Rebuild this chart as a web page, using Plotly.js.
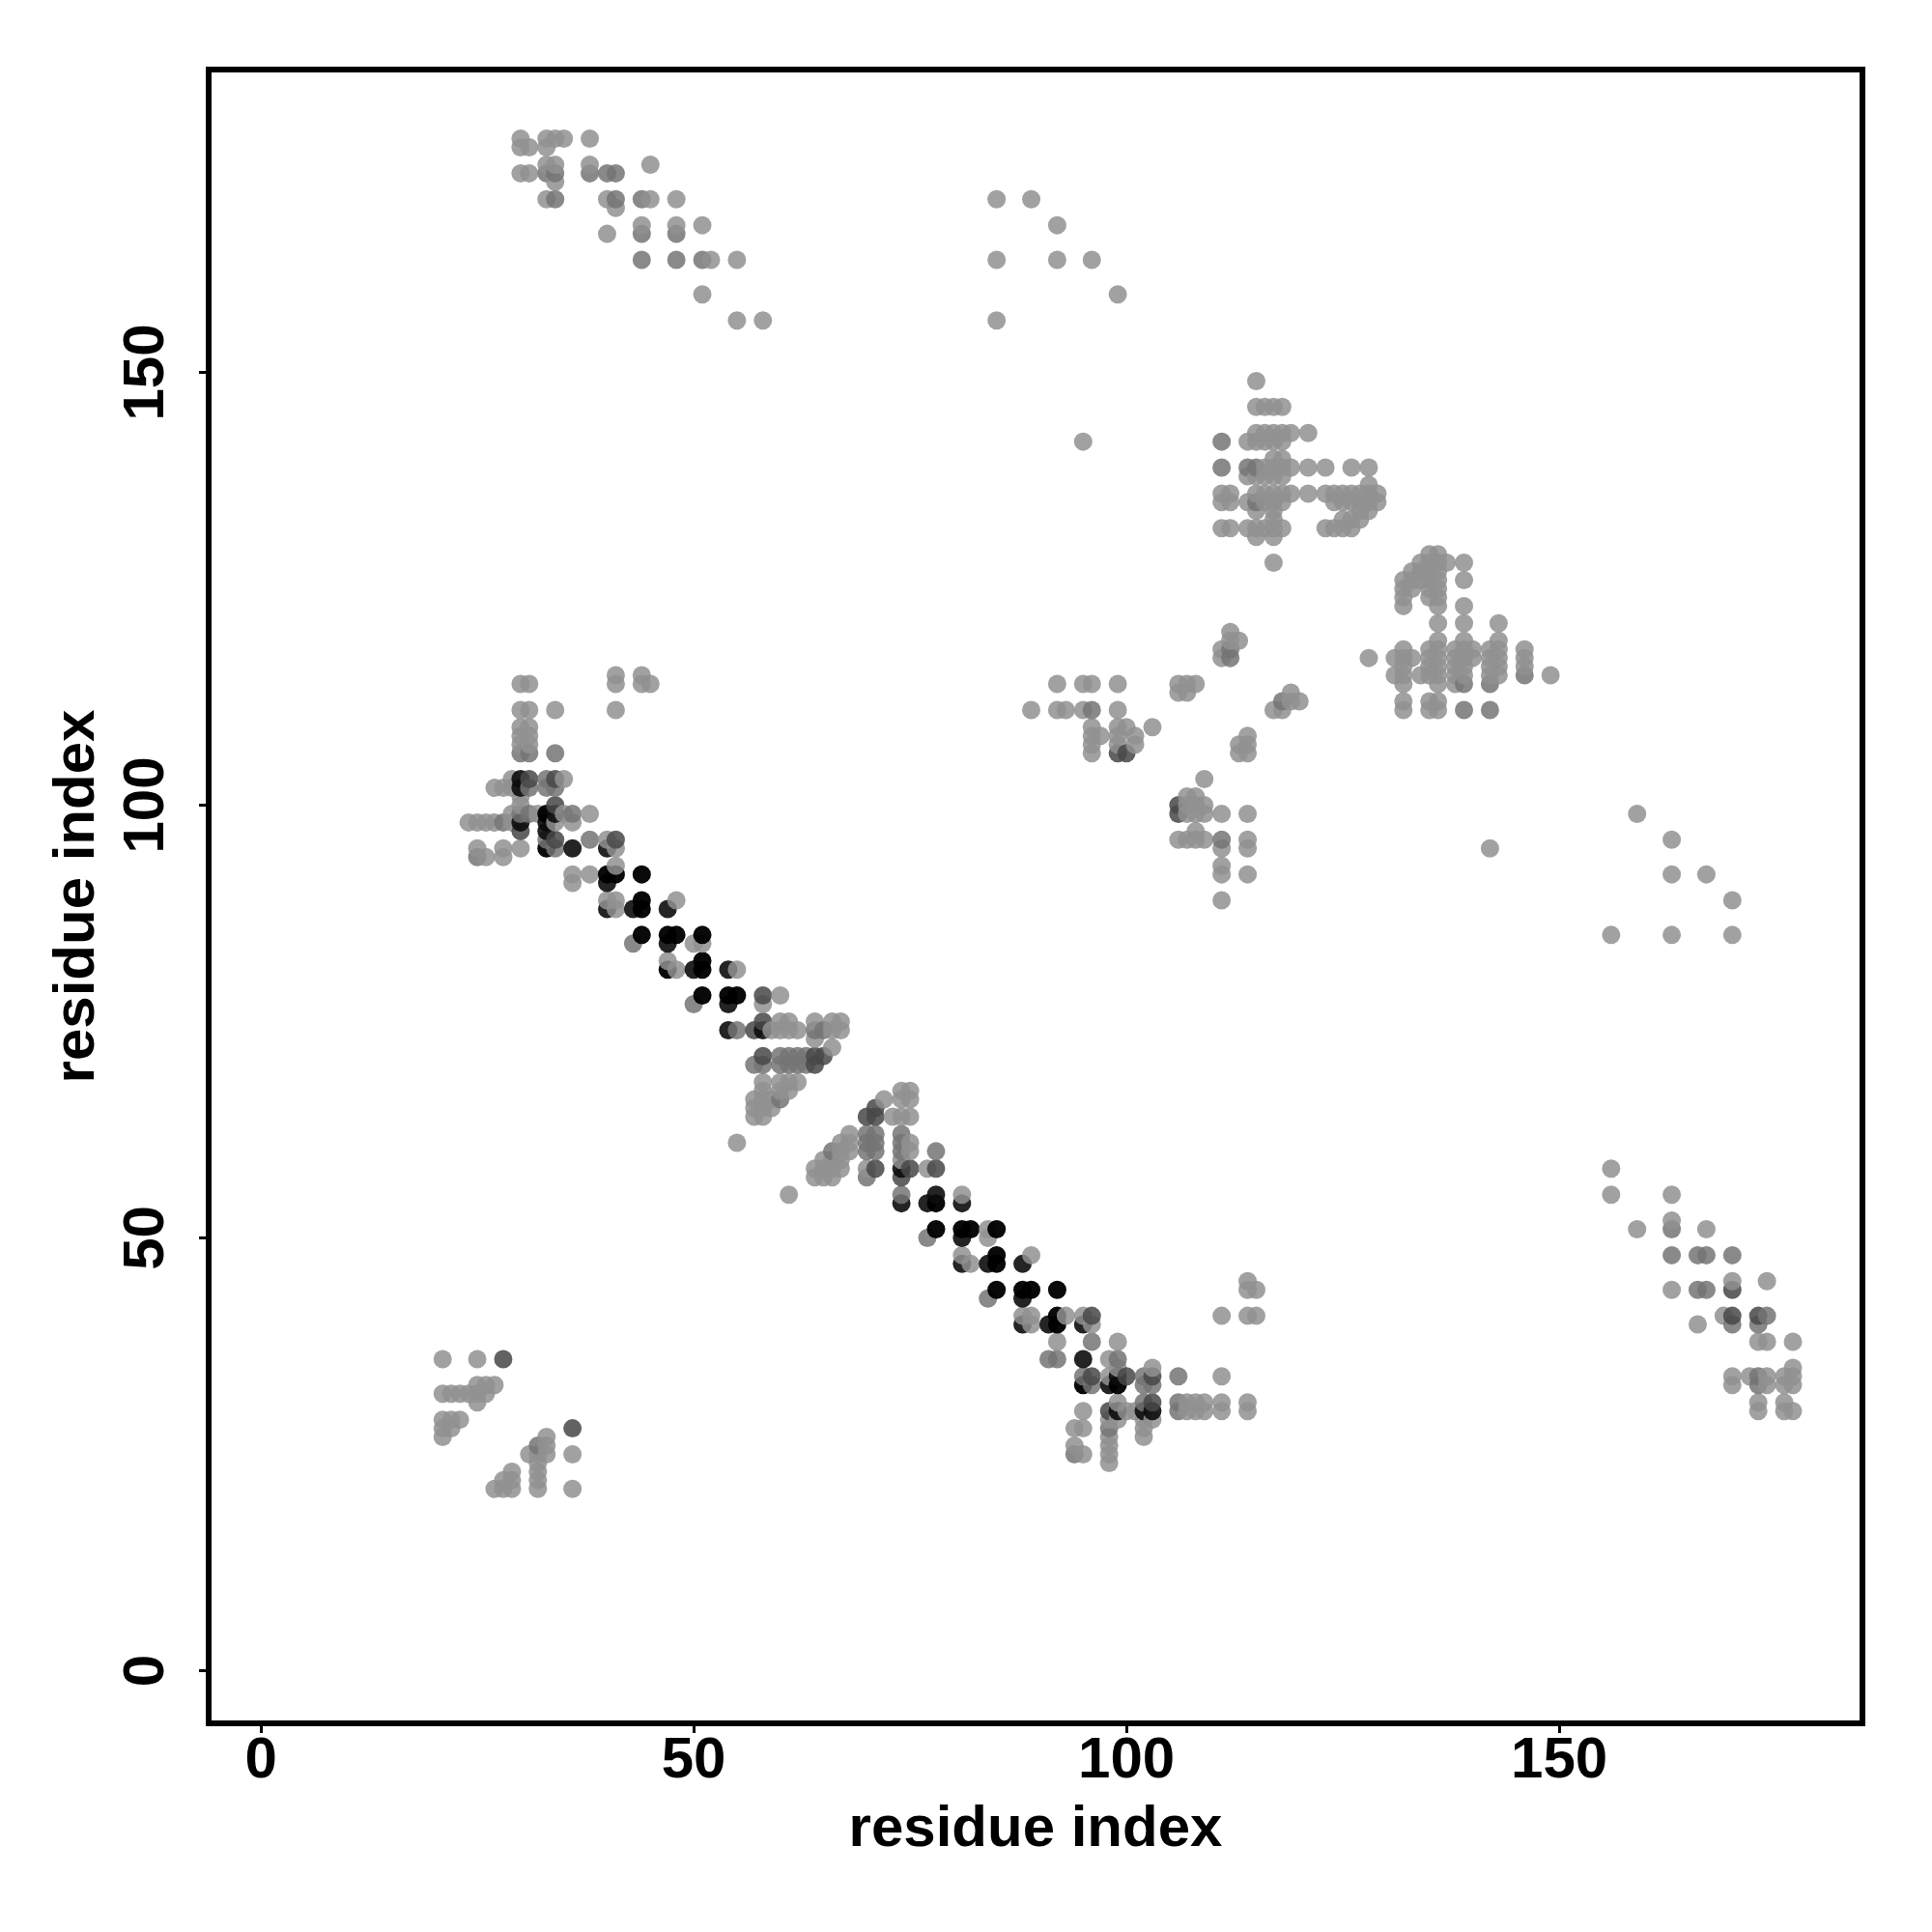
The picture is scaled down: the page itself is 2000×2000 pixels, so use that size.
<!DOCTYPE html>
<html><head><meta charset="utf-8">
<script src="https://cdn.plot.ly/plotly-3.0.1.min.js"></script>
<style>html,body{margin:0;padding:0;background:#fff}</style></head>
<body><div id="chart" style="width:2000px;height:2000px"></div>
<script>
// contact pairs [residue i, residue j], grouped by how dark the dot is
const lightPairs = [
[21,36],[25,36],[25,33],[26,33],[27,33],[21,32],[22,32],[23,32],[24,32],[25,32],[26,32],[25,31],[21,29],[22,29],[23,29],[21,28],[22,28],[21,27],
[36,25],[36,21],[33,27],[33,26],[33,25],[32,25],[32,24],[32,23],[32,22],[32,21],[31,25],[29,23],[29,22],[29,21],[28,22],[28,21],[27,21],
[30,114],[31,114],[41,115],[41,114],[44,115],[44,114],[45,114],[30,111],[31,111],[34,111],[41,111],[30,109],[31,109],[30,108],[31,108],[30,107],[31,107],
[29,103],[35,103],[27,102],[28,102],[29,102],[30,101],[30,100],[29,99],[32,99],[35,99],[38,99],[24,98],[25,98],[26,98],[27,98],[29,98],[34,98],[36,98],
[40,96],[25,95],[28,95],[30,95],[41,95],[26,94],[28,94],[41,93],[36,92],[38,92],[36,91],[40,89],[41,89],[48,89],[41,88],[50,84],[51,84],[47,82],[48,81],[55,81],[60,78],[58,77],
[60,75],[61,75],[64,75],[66,75],[67,75],[59,74],[60,74],[61,74],[62,74],[64,74],[66,74],[67,74],[64,73],[66,72],
[58,68],[60,68],[61,68],[62,68],[58,67],[60,67],[61,67],[57,66],[58,66],[59,66],[57,65],[58,65],[59,65],[57,64],[58,64],[55,61],[61,55],
[74,67],[75,67],[72,66],[74,66],[75,66],[73,64],[74,64],[75,64],[68,62],[67,61],[68,61],[67,60],[68,60],[65,59],[66,59],[67,59],[64,58],[65,58],[66,58],[67,58],[64,57],[65,57],[66,57],
[70,58],[74,59],[75,61],[75,60],[77,58],[81,55],[84,51],[84,50],[81,48],[89,48],[82,47],[114,45],[114,44],[115,44],
[88,41],[89,41],[93,41],[95,41],[111,41],[114,41],[115,41],[89,40],[96,40],[92,38],[99,38],[98,36],[103,35],[99,35],[98,34],[111,34],
[99,31],[107,31],[108,31],[109,31],[111,31],[114,31],[95,30],[100,30],[101,30],[107,30],[108,30],[109,30],[111,30],[114,30],[98,29],[99,29],[102,29],[103,29],[94,28],[95,28],[102,28],[98,27],[102,27],[94,26],[98,26],[95,25],[98,25],[98,24],
[85,170],[89,170],[92,167],[85,163],[92,163],[96,163],[99,159],[85,156],[95,142],[159,99],[163,96],[163,92],[167,92],[170,89],[156,85],[163,85],[170,85],[142,95],
[156,58],[156,55],[163,55],[159,51],[163,52],[167,51],[170,45],[174,45],[163,44],[169,41],[166,40],[174,38],[173,38],[177,38],[177,35],[170,34],[172,34],[174,34],[176,34],[177,34],[170,33],[174,33],[176,33],[177,33],[173,31],[176,31],[173,30],[176,30],[177,30],
[30,177],[33,177],[34,177],[35,177],[38,177],[30,176],[31,176],[33,176],[33,174],[34,174],[38,174],[45,174],[30,173],[31,173],[34,172],[33,170],[40,170],[45,170],[48,170],[41,169],[44,167],[48,167],[51,167],[40,166],[44,163],[52,163],[55,163],[51,159],[55,156],[58,156],
[115,149],[115,146],[116,146],[117,146],[118,146],[115,143],[116,143],[117,143],[118,143],[119,143],[121,143],[114,142],[115,142],[116,142],[117,142],[118,142],[117,140],[118,140],[116,139],[117,139],[118,139],[119,139],[121,139],[123,139],[126,139],[128,139],[114,138],[115,138],[116,138],[117,138],[118,138],[128,137],
[111,136],[112,136],[115,136],[116,136],[117,136],[118,136],[119,136],[121,136],[123,136],[124,136],[125,136],[126,136],[127,136],[128,136],[129,136],[111,135],[112,135],[114,135],[116,135],[117,135],[118,135],[124,135],[125,135],[126,135],[127,135],[128,135],[129,135],[115,134],[117,134],[127,134],[128,134],[117,133],[125,133],[126,133],[127,133],[111,132],[112,132],[114,132],[115,132],[116,132],[117,132],[118,132],[123,132],[124,132],[125,132],[126,132],[115,131],[117,131],[117,128],
[135,129],[136,129],[134,128],[135,128],[136,128],[137,128],[139,128],[133,127],[134,127],[135,127],[136,127],[132,126],[133,126],[134,126],[135,126],[136,126],[139,126],[132,125],[133,125],[135,125],[136,125],[132,124],[135,124],[136,124],[132,123],[136,123],[139,123],[136,121],[139,121],[143,121],[136,119],[139,119],[143,119],
[132,118],[135,118],[136,118],[138,118],[139,118],[140,118],[142,118],[143,118],[146,118],[128,117],[131,117],[132,117],[133,117],[135,117],[136,117],[138,117],[139,117],[140,117],[142,117],[143,117],[146,117],[132,116],[135,116],[136,116],[138,116],[139,116],[142,116],[143,116],[146,116],[131,115],[132,115],[134,115],[135,115],[136,115],[138,115],[139,115],[142,115],[143,115],[149,115],[132,114],[136,114],[138,114],[132,112],[135,112],[136,112],[132,111],[135,111],[136,111],
[92,114],[95,114],[96,114],[99,114],[106,114],[107,114],[108,114],[106,113],[107,113],[89,111],[92,111],[93,111],[95,111],[99,111],[96,109],[99,109],[100,109],[103,109],[96,108],[97,108],[99,108],[101,108],[96,107],[99,107],[101,107],[96,106],
[111,117],[111,118],[112,120],[112,119],[113,119],[119,113],[119,112],[120,112],[117,111],[118,111],[114,108],[113,107],[114,107],[113,106],[114,106],[109,103],
[107,101],[108,101],[107,100],[108,100],[109,100],[107,99],[108,99],[109,99],[111,99],[114,99],[108,97],[106,96],[107,96],[108,96],[109,96],[114,96],[111,95],[114,95],[111,93],[111,92],[114,92],[111,89]
];
const mediumPairs = [
[32,26],[34,106],[30,106],[31,106],[31,102],[33,102],[34,102],[33,103],[30,99],[31,99],[36,99],[28,98],[33,96],[38,96],[34,95],[25,94],[43,84],[50,77],[55,74],
[60,71],[61,71],[62,71],[63,71],[57,70],[58,70],[60,70],[61,70],[62,70],[63,70],[60,66],[66,60],[70,61],[71,61],[70,60],[71,60],[70,62],[71,62],[70,57],[74,62],[74,61],[74,60],[78,60],[74,55],[77,50],[84,43],
[96,38],[91,36],[92,36],[99,36],[95,34],[102,34],[106,34],[96,33],[102,33],[103,33],[102,31],[106,31],[106,30],[98,28],[94,25],[65,74],[64,74],
[163,48],[166,48],[167,48],[170,48],[163,51],[166,44],[167,44],[174,41],[170,40],[173,40],[173,34],[173,33],
[34,173],[40,173],[41,173],[38,173],[33,173],[34,170],[44,170],[41,170],[44,166],[48,166],[44,163],[48,163],[51,163],
[111,142],[111,139],[114,139],[115,139],[115,135],[96,111],[112,117],[112,118],[118,112],[111,96],[142,111],[139,111],[139,114],[142,114],[146,115]
];
const midPairs = [
[28,36],[36,28],[31,103],[34,103],[34,100],[34,96],[41,96],[30,97],[58,78],[58,75],[57,74],[58,71],[64,71],[65,71],[64,70],[71,65],[70,64],[71,64],[71,58],[74,57],[75,58],[78,58],[96,41],[96,34],[100,34],[103,34],[103,31],[98,30],
[170,44],[170,41],[173,41],
[106,100],[106,99],[99,106],[100,106]
];
const darkPairs = [
[30,103],[30,102],[30,98],[33,98],[33,97],[34,99],[36,95],[40,95],[40,91],[40,88],[43,88],[47,88],[47,84],[50,81],[54,81],[54,77],[54,74],[58,74],[74,58],[74,54],[77,54],[78,55],[81,54],[81,50],[81,47],[84,47],[88,47],[88,43],[88,40],[91,40],[95,40],[95,36],[99,34],[98,33],[99,30],[102,30],[103,30]
];
const blackPairs = [
[33,99],[33,95],[40,92],[41,92],[44,92],[44,89],[44,88],[44,85],[47,85],[48,85],[51,85],[51,82],[47,81],[51,81],[51,78],[54,78],[55,78],[78,54],[78,51],[81,51],[82,51],[85,51],[85,48],[85,47],[85,44],[88,44],[89,44],[92,44],[92,41],[92,40],[95,33],[99,33]
];
const xTickValues = [0,50,100,150];
const yTickValues = [0,50,100,150];
const axisLabel = 'residue index';

const groups = [
  [lightPairs,'rgba(145,145,145,0.85)'],
  [mediumPairs,'rgba(116,116,116,0.85)'],
  [midPairs,'rgba(72,72,72,0.86)'],
  [darkPairs,'rgba(12,12,12,0.9)'],
  [blackPairs,'rgba(0,0,0,0.96)']
];
const seen = new Set(), pts = [];
groups.slice().reverse().forEach(g => g[0].forEach(p => {
  const k = p[0]+'_'+p[1];
  if (!seen.has(k)) { seen.add(k); pts.push({x:p[0],y:p[1],c:g[1]}); }
}));
pts.sort((a,b)=>a.x-b.x||a.y-b.y);

const font = {family:'"Liberation Sans", Arial, sans-serif', size:60, color:'#000'};
const axisBase = {
  showgrid:false, zeroline:false, showline:true, mirror:true, linecolor:'#000', linewidth:6,
  ticks:'outside', ticklen:7, tickwidth:3, tickcolor:'#000', tickmode:'array',
  tickfont:font, automargin:false
};
const bold = '<b>'+axisLabel+'</b>';
Plotly.newPlot('chart',[{
  type:'scatter', mode:'markers',
  x:pts.map(p=>p.x), y:pts.map(p=>p.y),
  marker:{size:19, color:pts.map(p=>p.c), line:{width:0}},
  hoverinfo:'skip'
}],{
  width:2000,height:2000,
  margin:{l:219,r:75,t:75,b:219,pad:0},
  paper_bgcolor:'#fff',plot_bgcolor:'#fff',showlegend:false,
  xaxis:Object.assign({},axisBase,{range:[-5.7,184.7],tickvals:xTickValues,ticktext:xTickValues.map(v=>'<b>'+v+'</b>'),
    ticklabelstandoff:-26,title:{text:bold,font:font,standoff:19}}),
  yaxis:Object.assign({},axisBase,{range:[-5.75,184.65],tickvals:yTickValues,ticktext:yTickValues.map(v=>'<b>'+v+'</b>'),tickangle:-90,
    ticklabelstandoff:13,ticklabelshift:9,title:{text:bold,font:font,standoff:0}})
},{displayModeBar:false,staticPlot:true});
</script></body></html>
